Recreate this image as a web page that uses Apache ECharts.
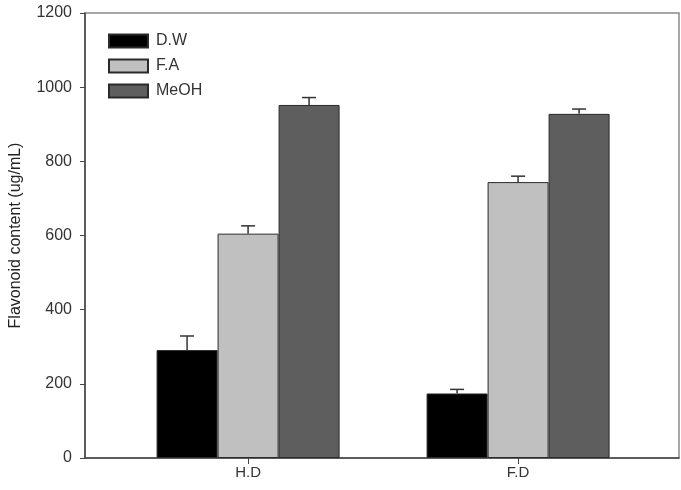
<!DOCTYPE html>
<html lang="en">
<head>
    <meta charset="utf-8">
    <title>Flavonoid content</title>
    <script src="https://cdn.jsdelivr.net/npm/echarts@6/dist/echarts.min.js"></script>
    <style>
        html, body { margin: 0; padding: 0; background: #fff; }
        #main { width: 681px; height: 490px; }
    </style>
</head>
<body>
    <div id="main"></div>

    <script type="text/javascript">
    // data
    var categories = ['H.D', 'F.D'];
    var seriesNames = ['D.W', 'F.A', 'MeOH'];
    var dwValues = [291, 174];
    var faValues = [605, 744];
    var meohValues = [952, 928];
    var dwErrors = [38, 11];
    var faErrors = [21, 16];
    var meohErrors = [20, 13];

    var colors = ['#000000', '#c0c0c0', '#5e5e5e'];
    var barW = 61;

    var allValues = [dwValues, faValues, meohValues];
    var allErrors = [dwErrors, faErrors, meohErrors];

    var myChart = echarts.init(document.getElementById('main'));

    var barSeries = seriesNames.map(function (name, s) {
        return {
            name: name,
            type: 'bar',
            barWidth: barW,
            barGap: '0%',
            itemStyle: { color: colors[s], borderColor: '#2a2a2a', borderWidth: 1 },
            data: allValues[s].map(function (v, i) { return [i, v]; }),
            z: 2
        };
    });

    // error bars: [category index, value, error, series index]
    var errData = [];
    allValues.forEach(function (vals, s) {
        vals.forEach(function (v, i) {
            errData.push([i, v, allErrors[s][i], s]);
        });
    });

    var errSeries = {
        type: 'custom',
        name: 'err',
        data: errData,
        z: 3,
        renderItem: function (params, api) {
            var x = api.value(0), v = api.value(1), e = api.value(2), s = api.value(3);
            var base = api.coord([x, v]);
            var top = api.coord([x, v + e]);
            var cx = base[0] + (s - 1) * barW;
            var style = { stroke: '#333', lineWidth: 1.5 };
            return {
                type: 'group',
                children: [
                    { type: 'line', shape: { x1: cx, y1: base[1], x2: cx, y2: top[1] }, style: style },
                    { type: 'line', shape: { x1: cx - 7, y1: top[1], x2: cx + 7, y2: top[1] }, style: style }
                ]
            };
        }
    };

    myChart.setOption({
        animation: false,
        textStyle: { fontFamily: 'Liberation Sans, Arial, sans-serif' },
        grid: {
            left: 85, right: 2, top: 13, bottom: 32,
            outerBoundsMode: 'none',
            containLabel: false,
            show: true, borderColor: '#8a8a8a', borderWidth: 1.5
        },
        legend: {
            data: seriesNames,
            orient: 'vertical',
            left: 103, top: 28,
            itemWidth: 39, itemHeight: 13, itemGap: 9,
            icon: 'rect',
            textStyle: { fontSize: 16, color: '#333', padding: [0, 0, 0, 3] }
        },
        xAxis: {
            type: 'value',
            min: -0.604,
            max: 1.596,
            splitLine: { show: false },
            axisLine: { show: true, onZero: false, lineStyle: { color: '#444', width: 1.5 } },
            axisTick: { show: true, customValues: [0, 1], length: 6, lineStyle: { color: '#444' } },
            axisLabel: {
                customValues: [0, 1],
                fontSize: 15, color: '#333', margin: 7,
                formatter: function (v) { return categories[Math.round(v)] || ''; }
            }
        },
        yAxis: {
            type: 'value',
            min: 0,
            max: 1200,
            interval: 200,
            name: 'Flavonoid content (ug/mL)',
            nameLocation: 'middle',
            nameGap: 61,
            nameTextStyle: { fontSize: 16, color: '#222' },
            splitLine: { show: false },
            axisLine: { show: true, onZero: false, lineStyle: { color: '#444', width: 1.5 } },
            axisTick: { show: true, inside: false, length: 5, lineStyle: { color: '#444' } },
            axisLabel: {
                fontSize: 16, color: '#333', margin: 13,
                formatter: function (v) { return String(v); }
            }
        },
        series: barSeries.concat([errSeries])
    });
    </script>
</body>
</html>
